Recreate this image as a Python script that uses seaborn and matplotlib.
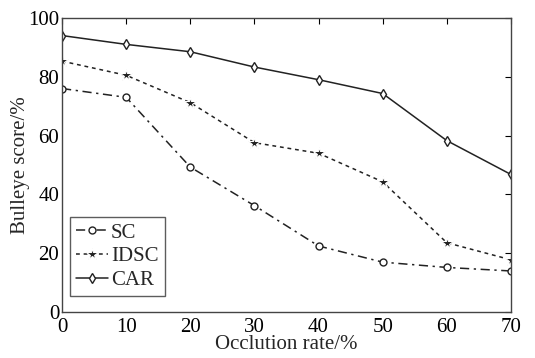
import pandas as pd
import matplotlib
matplotlib.use("Agg")
import matplotlib.pyplot as plt
import seaborn as sns

# values
occlusion = [0, 10, 20, 30, 40, 50, 60, 70]
sc_scores = [76.0, 73.0, 49.3, 36.2, 22.5, 17.0, 15.2, 14.0]
idsc_scores = [85.3, 80.5, 71.2, 57.6, 54.0, 44.3, 23.6, 17.8]
car_scores = [94.0, 91.0, 88.5, 83.3, 79.0, 74.3, 58.3, 46.8]
methods = ["SC", "IDSC", "CAR"]

def build_frame():
    rows = []
    for name, vals in zip(methods, [sc_scores, idsc_scores, car_scores]):
        for x, y in zip(occlusion, vals):
            rows.append({"rate": x, "score": y, "method": name})
    return pd.DataFrame(rows)

def main():
    sns.set_theme(style="white")
    plt.rcParams["font.family"] = ["Liberation Serif", "DejaVu Serif"]
    plt.rcParams["xtick.direction"] = "in"
    plt.rcParams["ytick.direction"] = "in"

    df = build_frame()
    fig = plt.figure(figsize=(5.35, 3.58), dpi=100)
    ax = fig.add_axes([0.116, 0.128, 0.839, 0.822])

    ink = "#222222"
    sns.lineplot(
        data=df, x="rate", y="score", style="method", hue="method",
        palette=[ink, ink, ink],
        dashes={"SC": (6, 3, 1.5, 3), "IDSC": (2.5, 2.5), "CAR": ""},
        markers={"SC": "o", "IDSC": "*", "CAR": "d"},
        markersize=5, linewidth=1.1, ax=ax,
    )
    # open markers for SC and CAR, filled star for IDSC
    for line in ax.get_lines():
        if line.get_marker() in ("o", "d"):
            line.set_markerfacecolor("white")
            line.set_markeredgecolor(ink)
            line.set_markeredgewidth(1.0)
        elif line.get_marker() == "*":
            line.set_markersize(9)
            line.set_markerfacecolor(ink)

    ax.set_xlim(0, 70)
    ax.set_ylim(0, 100)
    ax.set_xticks(occlusion)
    ax.set_yticks([0, 20, 40, 60, 80, 100])
    ax.tick_params(axis="both", labelsize=15, length=4, width=0.8,
                   top=True, right=True, colors="black")
    ax.tick_params(axis="x", pad=4)
    ax.tick_params(axis="y", pad=2)
    ax.set_xlabel("Occlution rate/%", fontsize=15, labelpad=-1)
    ax.set_ylabel("Bulleye score/%", fontsize=15, labelpad=-1)
    for spine in ax.spines.values():
        spine.set_color("#444444")
        spine.set_linewidth(1.0)

    leg = ax.legend(loc="lower left", bbox_to_anchor=(0.018, 0.054), fontsize=15,
                    frameon=True, fancybox=False, handlelength=1.5,
                    handletextpad=0.15, borderpad=0.3, labelspacing=0.2,
                    borderaxespad=0.0)
    leg.get_frame().set_edgecolor("#333333")
    leg.get_frame().set_linewidth(1.0)

    fig.savefig("out.png", dpi=100)

if __name__ == "__main__":
    main()
